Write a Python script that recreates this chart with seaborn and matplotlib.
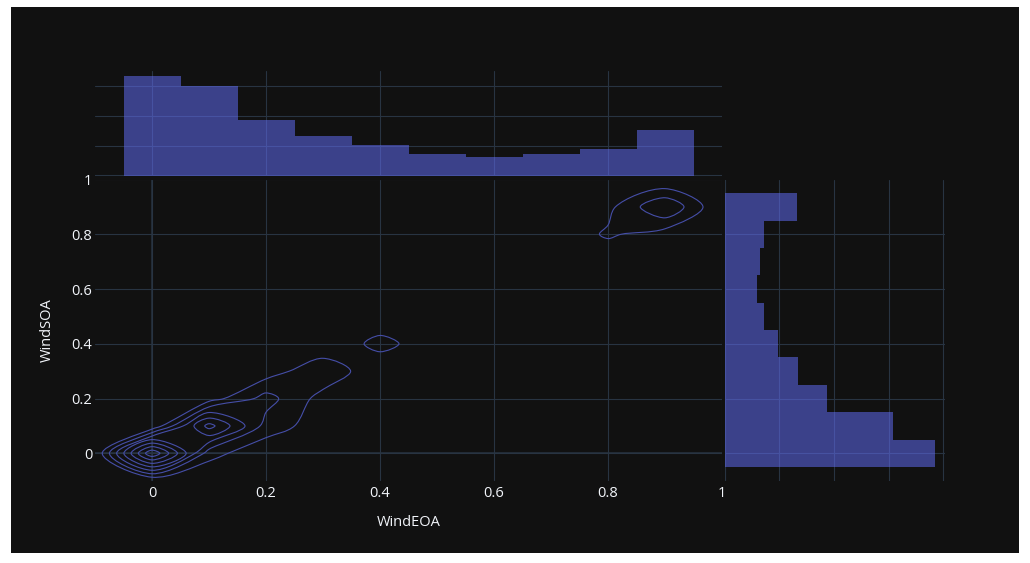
import numpy as np
import pandas as pd
import seaborn as sns
import contourpy
import matplotlib
matplotlib.use("Agg")
import matplotlib.pyplot as plt
from matplotlib.patches import Rectangle, PathPatch
from matplotlib.path import Path
from matplotlib.ticker import FuncFormatter

# Share of observations with easterly (WindEOA) and southerly (WindSOA) wind
bin_values = [0.0, 0.1, 0.2, 0.3, 0.4, 0.5, 0.6, 0.7, 0.8, 0.9]
eoa_counts = [166, 150, 93, 66, 51, 37, 32, 37, 44, 76]
soa_counts = [192, 154, 94, 67, 49, 36, 30, 32, 36, 66]

# Joint counts: one row per WindSOA value, one column per WindEOA value
joint_counts = [
    # EOA 0.0  0.1  0.2  0.3  0.4  0.5  0.6  0.7  0.8  0.9
    [158,  28,   4,   2,   0,   0,   0,   0,   0,   0],  # SOA 0.0
    [  2, 108,  32,   8,   2,   1,   1,   0,   0,   0],  # SOA 0.1
    [  1,  10,  48,  12,   6,   4,   3,   2,   2,   3],  # SOA 0.2
    [  1,   2,   9,  36,   3,   4,   4,   3,   2,   3],  # SOA 0.3
    [  1,   1,   0,   2,  27,   6,   4,   3,   2,   3],  # SOA 0.4
    [  0,   1,   0,   2,   4,  10,   6,   5,   4,   3],  # SOA 0.5
    [  1,   1,   0,   2,   3,   6,   8,   4,   3,   2],  # SOA 0.6
    [  1,   1,   0,   1,   2,   5,   6,  10,   4,   3],  # SOA 0.7
    [  1,   0,   0,   1,   1,   3,   2,   3,  23,  10],  # SOA 0.8
    [  1,   1,   0,   1,   1,   1,   1,   1,  14,  60],  # SOA 0.9
]
contour_levels = [20, 40, 60, 80, 100, 120, 140]

BG = "#111111"
GRID = "#283442"
TEXT = "#f2f5fa"
TRACE = "#636efa"
LINE = "#454ea8"

sns.set_theme(style="dark", rc={
    "axes.facecolor": BG,
    "figure.facecolor": "white",
    "axes.edgecolor": BG,
    "grid.color": GRID,
    "text.color": TEXT,
    "axes.labelcolor": TEXT,
    "xtick.color": TEXT,
    "ytick.color": TEXT,
})
plt.rcParams["font.family"] = ["Open Sans", "DejaVu Sans"]

W, H = 1030, 563
fig = plt.figure(figsize=(W / 100, H / 100), dpi=100, facecolor="white")
fig.patches.append(Rectangle((11 / W, 10 / H), 1008 / W, 546 / H,
                             transform=fig.transFigure, facecolor=BG,
                             edgecolor="none", zorder=-10))


def px_rect(left, top, right, bottom):
    return [left / W, 1 - bottom / H, (right - left) / W, (bottom - top) / H]


MAIN = (95, 179.5, 722, 480.7)
ax_main = fig.add_axes(px_rect(*MAIN))
ax_top = fig.add_axes(px_rect(95, 71, 722, 176))
ax_right = fig.add_axes(px_rect(724.5, 179.5, 945, 480.7))

for ax in (ax_main, ax_top, ax_right):
    ax.set_facecolor("none")
    for s in ax.spines.values():
        s.set_visible(False)
    ax.set_axisbelow(True)
    ax.grid(True, color=GRID, linewidth=0.8)
    ax.tick_params(length=0, labelsize=10.5, labelcolor=TEXT)

ticks = [0, 0.2, 0.4, 0.6, 0.8, 1.0]
fmt = FuncFormatter(lambda v, _: f"{v:g}")


# --- joint density contours -------------------------------------------------
def smooth_closed(pts, smoothness=1.0):
    """Closed Catmull-Rom style Bezier path through the given points."""
    n = len(pts)
    t_in = np.empty_like(pts)
    t_out = np.empty_like(pts)
    for i in range(n):
        prev, this, nxt = pts[i - 1], pts[i], pts[(i + 1) % n]
        d1, d2 = prev - this, nxt - this
        d1a = np.hypot(*d1) ** 0.5
        d2a = np.hypot(*d2) ** 0.5
        num = (d2a ** 2 * d1 - d1a ** 2 * d2) * smoothness
        den1 = 3 * d2a * (d1a + d2a)
        den2 = 3 * d1a * (d1a + d2a)
        t_in[i] = this + (num / den1 if den1 else 0)
        t_out[i] = this - (num / den2 if den2 else 0)
    verts = [pts[0]]
    codes = [Path.MOVETO]
    for i in range(1, n + 1):
        verts += [t_out[i - 1], t_in[i % n], pts[i % n]]
        codes += [Path.CURVE4] * 3
    return np.array(verts), codes


grid_vals = np.round(np.arange(-0.1, 1.05, 0.1), 2)
padded = np.zeros((len(grid_vals), len(grid_vals)))
padded[1:-1, 1:-1] = np.array(joint_counts, dtype=float)

# pixel scale of the main panel, so the smoothing works in screen space
sx = (MAIN[2] - MAIN[0]) / 1.1
sy = (MAIN[3] - MAIN[1]) / 1.1
scale = np.array([sx, sy])

gen = contourpy.contour_generator(grid_vals, grid_vals, padded,
                                  name="serial", line_type="Separate")
for level in contour_levels:
    for line in gen.lines(level):
        pts = np.asarray(line, dtype=float) * scale
        if np.allclose(pts[0], pts[-1]):
            pts = pts[:-1]
        keep = [pts[0]]
        for p in pts[1:]:
            if np.hypot(*(p - keep[-1])) >= 1.0:
                keep.append(p)
        pts = np.array(keep)
        if len(pts) < 3:
            continue
        verts, codes = smooth_closed(pts)
        ax_main.add_patch(PathPatch(Path(verts / scale, codes), fill=False,
                                    edgecolor=LINE, linewidth=0.8, zorder=3))

ax_main.axhline(0, color=GRID, linewidth=1.1, zorder=0.5)
ax_main.axvline(0, color=GRID, linewidth=1.1, zorder=0.5)
ax_main.set_xlim(-0.1, 1.0)
ax_main.set_ylim(-0.1, 1.0)
ax_main.set_xticks(ticks)
ax_main.set_yticks(ticks)
ax_main.xaxis.set_major_formatter(fmt)
ax_main.yaxis.set_major_formatter(fmt)
ax_main.tick_params(axis="x", pad=4)
ax_main.tick_params(axis="y", pad=2)
ax_main.set_xlabel("WindEOA", fontsize=10.5, labelpad=10)
ax_main.set_ylabel("WindSOA", fontsize=10.5, labelpad=12)

# --- marginal histograms ----------------------------------------------------
eoa_df = pd.DataFrame({"WindEOA": bin_values, "count": eoa_counts})
soa_df = pd.DataFrame({"WindSOA": bin_values, "count": soa_counts})
hist_kw = dict(binwidth=0.1, binrange=(-0.05, 0.95), color=TRACE,
               alpha=0.52, linewidth=0, element="bars")

sns.histplot(data=eoa_df, x="WindEOA", weights="count", ax=ax_top, **hist_kw)
ax_top.axhline(0, color=GRID, linewidth=1.5, zorder=0.5)
ax_top.set_xlim(-0.1, 1.0)
ax_top.set_ylim(0, 1.05 * max(eoa_counts))
ax_top.set_xticks(ticks[:-1])
ax_top.set_yticks([0, 50, 100, 150])
ax_top.set_xticklabels([])
ax_top.set_yticklabels([])
ax_top.set_xlabel("")
ax_top.set_ylabel("")

sns.histplot(data=soa_df, y="WindSOA", weights="count", ax=ax_right, **hist_kw)
ax_right.axvline(0, color=GRID, linewidth=1.5, zorder=0.5)
ax_right.set_ylim(-0.1, 1.0)
ax_right.set_xlim(0, 1.05 * max(soa_counts))
ax_right.set_yticks(ticks[:-1])
ax_right.set_xticks([0, 50, 100, 150, 200])
ax_right.set_xticklabels([])
ax_right.set_yticklabels([])
ax_right.set_xlabel("")
ax_right.set_ylabel("")

fig.savefig("out.png", dpi=100, facecolor="white")
